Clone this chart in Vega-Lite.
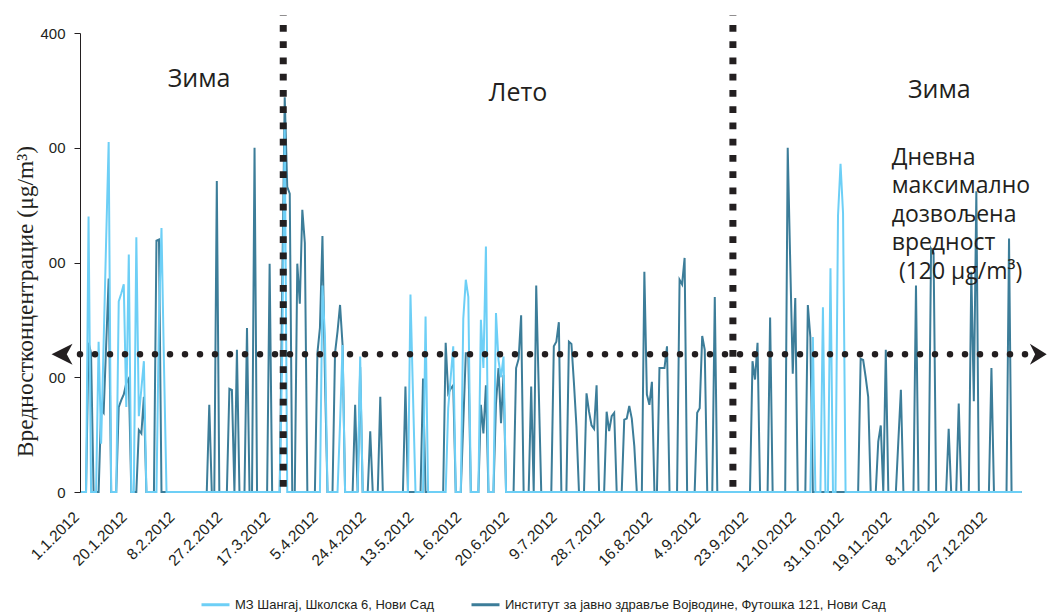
{
"$schema": "https://vega.github.io/schema/vega-lite/v6.json",
"width": 944, "height": 459,
"autosize": {"type": "none"},
"padding": {"left": 80, "top": 33, "right": 23, "bottom": 122},
"background": "white",
"config": {"view": {"stroke": null}, "font": "Liberation Sans",
 "axisX": {"labelAngle": -45, "labelFontSize": 15.5, "labelFont": "Liberation Sans", "labelColor": "#231f20", "labelPadding": 22, "labelOffset": -5, "labelBaseline": "middle", "labelAlign": "right", "domain": false, "ticks": false, "grid": false, "labelOverlap": false, "labelBound": false, "labelFlush": false},
 "axisY": {"grid": false, "domainColor": "#231f20", "tickColor": "#231f20", "tickSize": 6, "labelPadding": 9, "labelFontSize": 15, "labelFont": "Liberation Sans", "labelColor": "#231f20", "titleFont": "Liberation Serif", "titleFontSize": 23.5, "titleFontWeight": "normal", "titleColor": "#231f20", "titleX": -55, "titleY": 268, "titleAngle": -90, "titleAlign": "center", "titleBaseline": "middle"},
 "legend": {"orient": "none", "legendX": 120, "legendY": 556, "direction": "horizontal", "symbolType": "stroke", "symbolSize": 784, "symbolStrokeWidth": 3, "labelFontSize": 13, "labelFont": "Liberation Sans", "labelColor": "#231f20", "labelLimit": 900, "columnPadding": 30, "labelOffset": 4}},
"data": {"values": [
{"d":"2012-01-01","a":0,"b":0},{"d":"2012-01-02","a":0,"b":0},{"d":"2012-01-03","a":0,"b":0},{"d":"2012-01-04","a":240,"b":130},{"d":"2012-01-05","a":0,"b":121},{"d":"2012-01-06","a":0,"b":0},{"d":"2012-01-07","a":0,"b":0},{"d":"2012-01-08","a":131,"b":0},{"d":"2012-01-09","a":42,"b":72},{"d":"2012-01-10","a":130,"b":69},{"d":"2012-01-11","a":220,"b":128},{"d":"2012-01-12","a":305,"b":186},{"d":"2012-01-13","a":0,"b":0},{"d":"2012-01-14","a":0,"b":0},{"d":"2012-01-15","a":0,"b":0},{"d":"2012-01-16","a":166,"b":74},{"d":"2012-01-17","a":173,"b":80},{"d":"2012-01-18","a":181,"b":85},{"d":"2012-01-19","a":74,"b":95},{"d":"2012-01-20","a":207,"b":99},{"d":"2012-01-21","a":0,"b":0},{"d":"2012-01-22","a":0,"b":0},{"d":"2012-01-23","a":222,"b":0},{"d":"2012-01-24","a":66,"b":54},{"d":"2012-01-25","a":90,"b":51},{"d":"2012-01-26","a":114,"b":83},{"d":"2012-01-27","a":0,"b":0},{"d":"2012-01-28","a":0,"b":0},{"d":"2012-01-29","a":0,"b":0},{"d":"2012-01-30","a":0,"b":0},{"d":"2012-01-31","a":0,"b":219},
{"d":"2012-02-01","a":150,"b":220},{"d":"2012-02-02","a":230,"b":0},{"d":"2012-02-03","a":110,"b":0},{"d":"2012-02-04","a":0,"b":0},{"d":"2012-02-05","a":0,"b":0},{"d":"2012-02-06","a":0,"b":0},{"d":"2012-02-07","a":0,"b":0},{"d":"2012-02-08","a":0,"b":0},{"d":"2012-02-09","a":0,"b":0},{"d":"2012-02-10","a":0,"b":0},{"d":"2012-02-11","a":0,"b":0},{"d":"2012-02-12","a":0,"b":0},{"d":"2012-02-13","a":0,"b":0},{"d":"2012-02-14","a":0,"b":0},{"d":"2012-02-15","a":0,"b":0},{"d":"2012-02-16","a":0,"b":0},{"d":"2012-02-17","a":0,"b":0},{"d":"2012-02-18","a":0,"b":0},{"d":"2012-02-19","a":0,"b":0},{"d":"2012-02-20","a":0,"b":0},{"d":"2012-02-21","a":0,"b":76},{"d":"2012-02-22","a":0,"b":0},{"d":"2012-02-23","a":0,"b":0},{"d":"2012-02-24","a":0,"b":271},{"d":"2012-02-25","a":0,"b":0},{"d":"2012-02-26","a":0,"b":0},{"d":"2012-02-27","a":0,"b":0},{"d":"2012-02-28","a":0,"b":0},{"d":"2012-02-29","a":0,"b":90},
{"d":"2012-03-01","a":0,"b":89},{"d":"2012-03-02","a":0,"b":0},{"d":"2012-03-03","a":0,"b":124},{"d":"2012-03-04","a":0,"b":0},{"d":"2012-03-05","a":0,"b":0},{"d":"2012-03-06","a":0,"b":0},{"d":"2012-03-07","a":0,"b":143},{"d":"2012-03-08","a":0,"b":0},{"d":"2012-03-09","a":0,"b":0},{"d":"2012-03-10","a":0,"b":300},{"d":"2012-03-11","a":0,"b":0},{"d":"2012-03-12","a":0,"b":0},{"d":"2012-03-13","a":0,"b":0},{"d":"2012-03-14","a":0,"b":0},{"d":"2012-03-15","a":0,"b":0},{"d":"2012-03-16","a":0,"b":199},{"d":"2012-03-17","a":0,"b":0},{"d":"2012-03-18","a":0,"b":0},{"d":"2012-03-19","a":0,"b":0},{"d":"2012-03-20","a":0,"b":0},{"d":"2012-03-21","a":120,"b":180},{"d":"2012-03-22","a":320,"b":344},{"d":"2012-03-23","a":0,"b":266},{"d":"2012-03-24","a":0,"b":260},{"d":"2012-03-25","a":0,"b":0},{"d":"2012-03-26","a":0,"b":0},{"d":"2012-03-27","a":0,"b":199},{"d":"2012-03-28","a":0,"b":164},{"d":"2012-03-29","a":0,"b":246},{"d":"2012-03-30","a":0,"b":217},{"d":"2012-03-31","a":0,"b":0},
{"d":"2012-04-01","a":0,"b":0},{"d":"2012-04-02","a":0,"b":0},{"d":"2012-04-03","a":0,"b":0},{"d":"2012-04-04","a":0,"b":121},{"d":"2012-04-05","a":0,"b":143},{"d":"2012-04-06","a":180,"b":223},{"d":"2012-04-07","a":135,"b":100},{"d":"2012-04-08","a":0,"b":0},{"d":"2012-04-09","a":0,"b":0},{"d":"2012-04-10","a":0,"b":0},{"d":"2012-04-11","a":0,"b":121},{"d":"2012-04-12","a":0,"b":140},{"d":"2012-04-13","a":60,"b":163},{"d":"2012-04-14","a":128,"b":128},{"d":"2012-04-15","a":0,"b":0},{"d":"2012-04-16","a":0,"b":0},{"d":"2012-04-17","a":0,"b":0},{"d":"2012-04-18","a":0,"b":0},{"d":"2012-04-19","a":0,"b":76},{"d":"2012-04-20","a":0,"b":0},{"d":"2012-04-21","a":118,"b":109},{"d":"2012-04-22","a":0,"b":0},{"d":"2012-04-23","a":0,"b":0},{"d":"2012-04-24","a":0,"b":0},{"d":"2012-04-25","a":0,"b":53},{"d":"2012-04-26","a":0,"b":0},{"d":"2012-04-27","a":0,"b":0},{"d":"2012-04-28","a":0,"b":0},{"d":"2012-04-29","a":0,"b":83},{"d":"2012-04-30","a":0,"b":0},
{"d":"2012-05-01","a":0,"b":0},{"d":"2012-05-02","a":0,"b":0},{"d":"2012-05-03","a":0,"b":0},{"d":"2012-05-04","a":0,"b":0},{"d":"2012-05-05","a":0,"b":0},{"d":"2012-05-06","a":0,"b":0},{"d":"2012-05-07","a":0,"b":0},{"d":"2012-05-08","a":0,"b":0},{"d":"2012-05-09","a":0,"b":92},{"d":"2012-05-10","a":0,"b":0},{"d":"2012-05-11","a":172,"b":0},{"d":"2012-05-12","a":85,"b":0},{"d":"2012-05-13","a":0,"b":0},{"d":"2012-05-14","a":0,"b":0},{"d":"2012-05-15","a":0,"b":0},{"d":"2012-05-16","a":0,"b":99},{"d":"2012-05-17","a":153,"b":0},{"d":"2012-05-18","a":0,"b":0},{"d":"2012-05-19","a":0,"b":0},{"d":"2012-05-20","a":0,"b":0},{"d":"2012-05-21","a":0,"b":0},{"d":"2012-05-22","a":0,"b":0},{"d":"2012-05-23","a":0,"b":0},{"d":"2012-05-24","a":0,"b":0},{"d":"2012-05-25","a":0,"b":130},{"d":"2012-05-26","a":73,"b":86},{"d":"2012-05-27","a":100,"b":90},{"d":"2012-05-28","a":127,"b":93},{"d":"2012-05-29","a":0,"b":0},{"d":"2012-05-30","a":0,"b":0},{"d":"2012-05-31","a":0,"b":0},
{"d":"2012-06-01","a":151,"b":60},{"d":"2012-06-02","a":185,"b":121},{"d":"2012-06-03","a":170,"b":121},{"d":"2012-06-04","a":0,"b":0},{"d":"2012-06-05","a":0,"b":0},{"d":"2012-06-06","a":0,"b":0},{"d":"2012-06-07","a":0,"b":0},{"d":"2012-06-08","a":150,"b":76},{"d":"2012-06-09","a":108,"b":51},{"d":"2012-06-10","a":214,"b":93},{"d":"2012-06-11","a":0,"b":0},{"d":"2012-06-12","a":0,"b":0},{"d":"2012-06-13","a":0,"b":0},{"d":"2012-06-14","a":156,"b":77},{"d":"2012-06-15","a":115,"b":108},{"d":"2012-06-16","a":100,"b":60},{"d":"2012-06-17","a":118,"b":102},{"d":"2012-06-18","a":0,"b":0},{"d":"2012-06-19","a":0,"b":0},{"d":"2012-06-20","a":0,"b":0},{"d":"2012-06-21","a":0,"b":0},{"d":"2012-06-22","a":0,"b":108},{"d":"2012-06-23","a":0,"b":116},{"d":"2012-06-24","a":0,"b":154},{"d":"2012-06-25","a":0,"b":0},{"d":"2012-06-26","a":0,"b":0},{"d":"2012-06-27","a":0,"b":0},{"d":"2012-06-28","a":0,"b":92},{"d":"2012-06-29","a":0,"b":0},{"d":"2012-06-30","a":0,"b":180},
{"d":"2012-07-01","a":0,"b":90},{"d":"2012-07-02","a":0,"b":0},{"d":"2012-07-03","a":0,"b":0},{"d":"2012-07-04","a":0,"b":0},{"d":"2012-07-05","a":0,"b":0},{"d":"2012-07-06","a":0,"b":0},{"d":"2012-07-07","a":0,"b":127},{"d":"2012-07-08","a":0,"b":131},{"d":"2012-07-09","a":0,"b":148},{"d":"2012-07-10","a":0,"b":0},{"d":"2012-07-11","a":0,"b":0},{"d":"2012-07-12","a":0,"b":0},{"d":"2012-07-13","a":0,"b":131},{"d":"2012-07-14","a":0,"b":129},{"d":"2012-07-15","a":0,"b":95},{"d":"2012-07-16","a":0,"b":57},{"d":"2012-07-17","a":0,"b":0},{"d":"2012-07-18","a":0,"b":0},{"d":"2012-07-19","a":0,"b":0},{"d":"2012-07-20","a":0,"b":86},{"d":"2012-07-21","a":0,"b":70},{"d":"2012-07-22","a":0,"b":58},{"d":"2012-07-23","a":0,"b":55},{"d":"2012-07-24","a":0,"b":93},{"d":"2012-07-25","a":0,"b":0},{"d":"2012-07-26","a":0,"b":0},{"d":"2012-07-27","a":0,"b":0},{"d":"2012-07-28","a":0,"b":70},{"d":"2012-07-29","a":0,"b":53},{"d":"2012-07-30","a":0,"b":66},{"d":"2012-07-31","a":0,"b":69},
{"d":"2012-08-01","a":0,"b":0},{"d":"2012-08-02","a":0,"b":0},{"d":"2012-08-03","a":0,"b":0},{"d":"2012-08-04","a":0,"b":63},{"d":"2012-08-05","a":0,"b":64},{"d":"2012-08-06","a":0,"b":75},{"d":"2012-08-07","a":0,"b":64},{"d":"2012-08-08","a":0,"b":40},{"d":"2012-08-09","a":0,"b":0},{"d":"2012-08-10","a":0,"b":0},{"d":"2012-08-11","a":0,"b":0},{"d":"2012-08-12","a":0,"b":192},{"d":"2012-08-13","a":0,"b":85},{"d":"2012-08-14","a":0,"b":76},{"d":"2012-08-15","a":0,"b":96},{"d":"2012-08-16","a":0,"b":0},{"d":"2012-08-17","a":0,"b":0},{"d":"2012-08-18","a":0,"b":108},{"d":"2012-08-19","a":0,"b":108},{"d":"2012-08-20","a":0,"b":108},{"d":"2012-08-21","a":0,"b":127},{"d":"2012-08-22","a":0,"b":0},{"d":"2012-08-23","a":0,"b":0},{"d":"2012-08-24","a":0,"b":0},{"d":"2012-08-25","a":0,"b":0},{"d":"2012-08-26","a":0,"b":185},{"d":"2012-08-27","a":0,"b":181},{"d":"2012-08-28","a":0,"b":204},{"d":"2012-08-29","a":0,"b":0},{"d":"2012-08-30","a":0,"b":0},{"d":"2012-08-31","a":0,"b":0},
{"d":"2012-09-01","a":0,"b":0},{"d":"2012-09-02","a":0,"b":69},{"d":"2012-09-03","a":0,"b":73},{"d":"2012-09-04","a":0,"b":136},{"d":"2012-09-05","a":0,"b":124},{"d":"2012-09-06","a":0,"b":0},{"d":"2012-09-07","a":0,"b":0},{"d":"2012-09-08","a":0,"b":0},{"d":"2012-09-09","a":0,"b":170},{"d":"2012-09-10","a":0,"b":0},{"d":"2012-09-11","a":0,"b":0},{"d":"2012-09-12","a":0,"b":0},{"d":"2012-09-13","a":0,"b":0},{"d":"2012-09-14","a":0,"b":0},{"d":"2012-09-15","a":0,"b":0},{"d":"2012-09-16","a":0,"b":0},{"d":"2012-09-17","a":0,"b":0},{"d":"2012-09-18","a":0,"b":0},{"d":"2012-09-19","a":0,"b":0},{"d":"2012-09-20","a":0,"b":0},{"d":"2012-09-21","a":0,"b":0},{"d":"2012-09-22","a":0,"b":0},{"d":"2012-09-23","a":0,"b":0},{"d":"2012-09-24","a":0,"b":114},{"d":"2012-09-25","a":0,"b":98},{"d":"2012-09-26","a":0,"b":130},{"d":"2012-09-27","a":0,"b":0},{"d":"2012-09-28","a":0,"b":0},{"d":"2012-09-29","a":0,"b":0},{"d":"2012-09-30","a":0,"b":0},
{"d":"2012-10-01","a":0,"b":152},{"d":"2012-10-02","a":0,"b":0},{"d":"2012-10-03","a":0,"b":0},{"d":"2012-10-04","a":0,"b":0},{"d":"2012-10-05","a":0,"b":0},{"d":"2012-10-06","a":0,"b":0},{"d":"2012-10-07","a":0,"b":0},{"d":"2012-10-08","a":0,"b":300},{"d":"2012-10-09","a":0,"b":200},{"d":"2012-10-10","a":0,"b":103},{"d":"2012-10-11","a":0,"b":169},{"d":"2012-10-12","a":0,"b":0},{"d":"2012-10-13","a":0,"b":0},{"d":"2012-10-14","a":0,"b":0},{"d":"2012-10-15","a":0,"b":0},{"d":"2012-10-16","a":0,"b":163},{"d":"2012-10-17","a":0,"b":135},{"d":"2012-10-18","a":135,"b":0},{"d":"2012-10-19","a":0,"b":0},{"d":"2012-10-20","a":0,"b":0},{"d":"2012-10-21","a":0,"b":0},{"d":"2012-10-22","a":161,"b":0},{"d":"2012-10-23","a":0,"b":0},{"d":"2012-10-24","a":0,"b":0},{"d":"2012-10-25","a":195,"b":0},{"d":"2012-10-26","a":0,"b":0},{"d":"2012-10-27","a":0,"b":0},{"d":"2012-10-28","a":241,"b":0},{"d":"2012-10-29","a":286,"b":0},{"d":"2012-10-30","a":243,"b":0},{"d":"2012-10-31","a":0,"b":0},
{"d":"2012-11-01","a":0,"b":0},{"d":"2012-11-02","a":0,"b":0},{"d":"2012-11-03","a":0,"b":0},{"d":"2012-11-04","a":0,"b":0},{"d":"2012-11-05","a":0,"b":0},{"d":"2012-11-06","a":0,"b":116},{"d":"2012-11-07","a":0,"b":115},{"d":"2012-11-08","a":0,"b":100},{"d":"2012-11-09","a":0,"b":83},{"d":"2012-11-10","a":0,"b":0},{"d":"2012-11-11","a":0,"b":0},{"d":"2012-11-12","a":0,"b":0},{"d":"2012-11-13","a":0,"b":44},{"d":"2012-11-14","a":0,"b":58},{"d":"2012-11-15","a":0,"b":0},{"d":"2012-11-16","a":0,"b":124},{"d":"2012-11-17","a":0,"b":0},{"d":"2012-11-18","a":0,"b":0},{"d":"2012-11-19","a":0,"b":0},{"d":"2012-11-20","a":0,"b":0},{"d":"2012-11-21","a":0,"b":45},{"d":"2012-11-22","a":0,"b":89},{"d":"2012-11-23","a":0,"b":0},{"d":"2012-11-24","a":0,"b":0},{"d":"2012-11-25","a":0,"b":0},{"d":"2012-11-26","a":0,"b":0},{"d":"2012-11-27","a":0,"b":0},{"d":"2012-11-28","a":0,"b":180},{"d":"2012-11-29","a":0,"b":0},{"d":"2012-11-30","a":0,"b":0},
{"d":"2012-12-01","a":0,"b":0},{"d":"2012-12-02","a":0,"b":0},{"d":"2012-12-03","a":0,"b":0},{"d":"2012-12-04","a":0,"b":212},{"d":"2012-12-05","a":0,"b":208},{"d":"2012-12-06","a":0,"b":0},{"d":"2012-12-07","a":0,"b":0},{"d":"2012-12-08","a":0,"b":0},{"d":"2012-12-09","a":0,"b":0},{"d":"2012-12-10","a":0,"b":0},{"d":"2012-12-11","a":0,"b":55},{"d":"2012-12-12","a":0,"b":0},{"d":"2012-12-13","a":0,"b":0},{"d":"2012-12-14","a":0,"b":0},{"d":"2012-12-15","a":0,"b":77},{"d":"2012-12-16","a":0,"b":0},{"d":"2012-12-17","a":0,"b":0},{"d":"2012-12-18","a":0,"b":0},{"d":"2012-12-19","a":0,"b":0},{"d":"2012-12-20","a":0,"b":192},{"d":"2012-12-21","a":0,"b":79},{"d":"2012-12-22","a":0,"b":262},{"d":"2012-12-23","a":0,"b":0},{"d":"2012-12-24","a":0,"b":0},{"d":"2012-12-25","a":0,"b":0},{"d":"2012-12-26","a":0,"b":0},{"d":"2012-12-27","a":0,"b":0},{"d":"2012-12-28","a":0,"b":108},{"d":"2012-12-29","a":0,"b":0},{"d":"2012-12-30","a":0,"b":0},{"d":"2012-12-31","a":0,"b":0},
{"d":"2013-01-01","a":0,"b":0},{"d":"2013-01-02","a":0,"b":0},{"d":"2013-01-03","a":0,"b":0},{"d":"2013-01-04","a":0,"b":221},{"d":"2013-01-05","a":0,"b":0},{"d":"2013-01-06","a":0,"b":0},{"d":"2013-01-07","a":0,"b":0},{"d":"2013-01-08","a":0,"b":0},{"d":"2013-01-09","a":0,"b":0}
]},
"layer": [
{"mark": {"type": "line", "strokeWidth": 2, "clip": false},
 "encoding": {
  "x": {"field": "d", "type": "temporal",
   "scale": {"type": "utc", "domain": [{"year": 2011, "month": 12, "date": 31, "hours": 14, "minutes": 24, "utc": true}, {"year": 2013, "month": 1, "date": 9, "hours": 22, "minutes": 48, "utc": true}]},
   "axis": {"title": null, "labelExpr": "utcFormat(datum.value, '%-d.%-m.%Y')",
    "values": [{"year":2012,"month":1,"date":1,"utc":true},{"year":2012,"month":1,"date":20,"utc":true},{"year":2012,"month":2,"date":8,"utc":true},{"year":2012,"month":2,"date":27,"utc":true},{"year":2012,"month":3,"date":17,"utc":true},{"year":2012,"month":4,"date":5,"utc":true},{"year":2012,"month":4,"date":24,"utc":true},{"year":2012,"month":5,"date":13,"utc":true},{"year":2012,"month":6,"date":1,"utc":true},{"year":2012,"month":6,"date":20,"utc":true},{"year":2012,"month":7,"date":9,"utc":true},{"year":2012,"month":7,"date":28,"utc":true},{"year":2012,"month":8,"date":16,"utc":true},{"year":2012,"month":9,"date":4,"utc":true},{"year":2012,"month":9,"date":23,"utc":true},{"year":2012,"month":10,"date":12,"utc":true},{"year":2012,"month":10,"date":31,"utc":true},{"year":2012,"month":11,"date":19,"utc":true},{"year":2012,"month":12,"date":8,"utc":true},{"year":2012,"month":12,"date":27,"utc":true}]}},
  "y": {"field": "b", "type": "quantitative", "scale": {"domain": [0, 400]},
   "axis": {"title": "Вредностконцентрацие (μg/m³)", "values": [0, 100, 200, 300, 400], "labelExpr": "datum.value == 0 ? '0' : (datum.value == 400 ? '400' : '00')"}},
  "color": {"datum": "Институт за јавно здравље Војводине, Футошка 121, Нови Сад", "type": "nominal",
   "scale": {"domain": ["МЗ Шангај, Школска 6, Нови Сад", "Институт за јавно здравље Војводине, Футошка 121, Нови Сад"], "range": ["#6dcff6", "#3c7d99"]},
   "legend": {"title": null}}
 }},
{"mark": {"type": "line", "strokeWidth": 2, "clip": false},
 "encoding": {
  "x": {"field": "d", "type": "temporal"},
  "y": {"field": "a", "type": "quantitative"},
  "color": {"datum": "МЗ Шангај, Школска 6, Нови Сад", "type": "nominal", "legend": {"title": null}}
 }},
{"data": {"values": [{"d": "2011-12-31T14:24:00Z", "d2": "2013-01-10T18:00:00Z", "v": 120}]},
 "mark": {"type": "rule", "strokeDash": [0.01, 14.99], "strokeCap": "round", "strokeWidth": 6.5, "color": "#231f20", "clip": false},
 "encoding": {"x": {"field": "d", "type": "temporal"}, "x2": {"field": "d2"}, "y": {"field": "v", "type": "quantitative"}}},
{"data": {"values": [{"d": "2012-03-21T10:00:00Z"}, {"d": "2012-09-16T05:00:00Z"}]},
 "mark": {"type": "rule", "strokeDash": [6.7, 9.55], "strokeDashOffset": 6.25, "strokeWidth": 7, "strokeCap": "butt", "color": "#231f20", "clip": false},
 "encoding": {"x": {"field": "d", "type": "temporal"}, "y": {"datum": 415.7, "type": "quantitative"}, "y2": {"datum": 0}}},
{"data": {"values": [{"d": "2011-12-24T11:00:00Z", "v": 120}]},
 "mark": {"type": "point", "shape": "M-1,0L1,-1L0.45,0L1,1Z", "size": 441, "filled": true, "opacity": 1, "color": "#231f20", "clip": false},
 "encoding": {"x": {"field": "d", "type": "temporal"}, "y": {"field": "v", "type": "quantitative"}}},
{"data": {"values": [{"d": "2013-01-14T19:00:00Z", "v": 120}]},
 "mark": {"type": "point", "shape": "M1,0L-0.6,-1L-0.1,0L-0.6,1Z", "size": 441, "filled": true, "opacity": 1, "color": "#231f20", "clip": false},
 "encoding": {"x": {"field": "d", "type": "temporal"}, "y": {"field": "v", "type": "quantitative"}}},
{"data": {"values": [{"d": "2012-02-16T22:00:00Z", "v": 353, "t": "Зима"}, {"d": "2012-06-22T19:00:00Z", "v": 340.7, "t": "Лето"}, {"d": "2012-12-07T07:00:00Z", "v": 343.6, "t": "Зима"}]},
 "mark": {"type": "text", "font": "Open Sans", "fontSize": 25, "color": "#231f20", "align": "center", "baseline": "alphabetic", "clip": false},
 "encoding": {"x": {"field": "d", "type": "temporal"}, "y": {"field": "v", "type": "quantitative"}, "text": {"field": "t"}}},
{"data": {"values": [{"d": "2012-11-18T08:00:00Z", "v": 285, "t": "Дневна\nмаксимално\nдозвољена\nвредност"}, {"d": "2012-11-21T05:00:00Z", "v": 185.6, "t": "(120 μg/m³)"}]},
 "mark": {"type": "text", "font": "Open Sans", "fontSize": 23, "lineHeight": 28.5, "lineBreak": "\n", "color": "#231f20", "align": "left", "baseline": "alphabetic", "clip": false},
 "encoding": {"x": {"field": "d", "type": "temporal"}, "y": {"field": "v", "type": "quantitative"}, "text": {"field": "t"}}}
]
}
